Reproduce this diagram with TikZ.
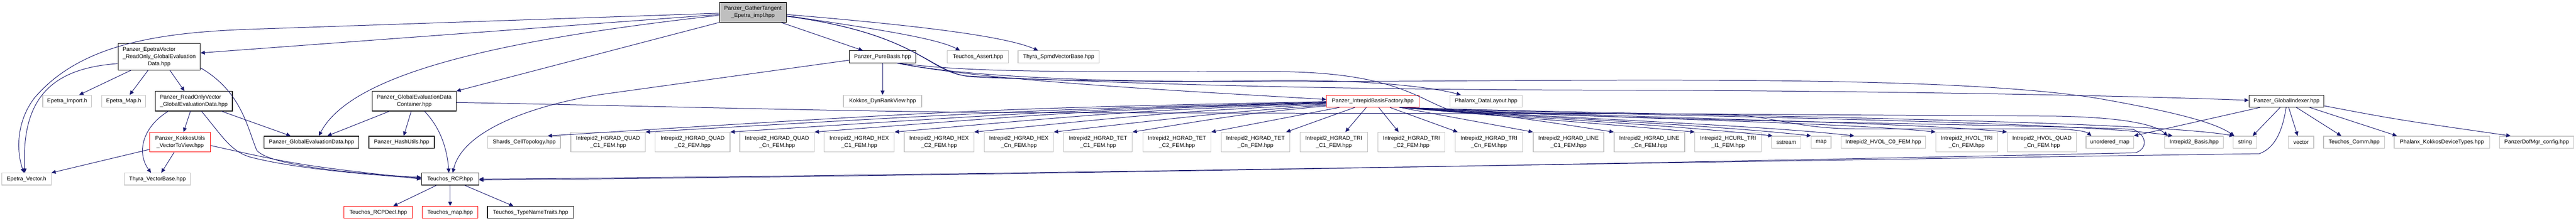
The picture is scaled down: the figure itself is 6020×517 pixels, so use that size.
\documentclass[tikz,border=0pt]{standalone}
\usepackage{fontspec}
\setmainfont{Liberation Sans}
\usepackage{tikz}
\usetikzlibrary{arrows.meta}

\definecolor{edgeblue}{HTML}{191970}
\definecolor{extgray}{HTML}{BFBFBF}
\definecolor{rootgray}{HTML}{BFBFBF}

\tikzset{
  file/.style={rectangle, line width=1.4pt, inner sep=0pt, minimum height=28pt,
    align=center, font=\fontsize{13}{17}\selectfont},
  local/.style={file, draw=black},
  extern/.style={file, draw=extgray},
  missing/.style={file, draw=red},
  tworow/.style={minimum height=46pt},
  threerow/.style={minimum height=62pt},
  edge/.style={draw=edgeblue, line width=1.2pt, -{Triangle[length=10pt,width=9pt,fill=edgeblue]}}
}

\begin{document}
\begin{tikzpicture}[x=1pt, y=-1pt]
\useasboundingbox[fill=white] (0,0) rectangle (6020,517);

% nodes
\node[local, fill=rootgray, tworow, minimum width=157pt] (gather) at (1759.5,29) {Panzer\_GatherTangent\\\_Epetra\_impl.hpp};

\node[local, threerow, minimum width=192pt] (evro) at (372,133) {\begin{tabular}{@{}l@{}}Panzer\_EpetraVector\\\_ReadOnly\_GlobalEvaluation\\\multicolumn{1}{@{}c@{}}{Data.hpp}\end{tabular}};
\node[local, minimum width=155pt] (purebasis) at (2062.5,133) {Panzer\_PureBasis.hpp};
\node[extern, minimum width=143pt] (tassert) at (2285.5,133) {Teuchos\_Assert.hpp};
\node[extern, minimum width=190pt] (thyraspmd) at (2474,133) {Thyra\_SpmdVectorBase.hpp};

\node[extern, minimum width=114pt] (epimport) at (157,237) {Epetra\_Import.h};
\node[extern, minimum width=102pt] (epmap) at (289,237) {Epetra\_Map.h};
\node[local, tworow, minimum width=180pt] (rov) at (453,237) {\begin{tabular}{@{}l@{}}Panzer\_ReadOnlyVector\\\multicolumn{1}{@{}c@{}}{\_GlobalEvaluationData.hpp}\end{tabular}};
\node[local, tworow, minimum width=196pt] (gedc) at (968,237) {Panzer\_GlobalEvaluationData\\Container.hpp};
\node[extern, minimum width=183pt] (dynrank) at (2062.5,237) {Kokkos\_DynRankView.hpp};
\node[missing, minimum width=216pt] (basisfac) at (3208,237) {Panzer\_IntrepidBasisFactory.hpp};
\node[extern, minimum width=168pt] (datalayout) at (3473,237) {Phalanx\_DataLayout.hpp};
\node[local, minimum width=175pt] (gindexer) at (5343.5,237) {Panzer\_GlobalIndexer.hpp};

\node[missing, tworow, minimum width=142pt] (kutils) at (421,333) {Panzer\_KokkosUtils\\\_VectorToView.hpp};
\node[local, minimum width=222pt] (gedata) at (728,333) {Panzer\_GlobalEvaluationData.hpp};
\node[local, minimum width=153pt] (hashutils) at (938.5,333) {Panzer\_HashUtils.hpp};
\node[extern, minimum width=170pt] (shards) at (1225,333) {Shards\_CellTopology.hpp};
\node[extern, tworow, minimum width=174pt] (quadA) at (1421,333) {Intrepid2\_HGRAD\_QUAD\\\_C1\_FEM.hpp};
\node[extern, tworow, minimum width=175pt] (quadB) at (1618.5,333) {Intrepid2\_HGRAD\_QUAD\\\_C2\_FEM.hpp};
\node[extern, tworow, minimum width=174pt] (quadN) at (1816,333) {Intrepid2\_HGRAD\_QUAD\\\_Cn\_FEM.hpp};
\node[extern, tworow, minimum width=164pt] (hexA) at (2008,333) {Intrepid2\_HGRAD\_HEX\\\_C1\_FEM.hpp};
\node[extern, tworow, minimum width=163pt] (hexB) at (2194.5,333) {Intrepid2\_HGRAD\_HEX\\\_C2\_FEM.hpp};
\node[extern, tworow, minimum width=162pt] (hexN) at (2381,333) {Intrepid2\_HGRAD\_HEX\\\_Cn\_FEM.hpp};
\node[extern, tworow, minimum width=160pt] (tetA) at (2566,333) {Intrepid2\_HGRAD\_TET\\\_C1\_FEM.hpp};
\node[extern, tworow, minimum width=159pt] (tetB) at (2750.5,333) {Intrepid2\_HGRAD\_TET\\\_C2\_FEM.hpp};
\node[extern, tworow, minimum width=160pt] (tetN) at (2934,333) {Intrepid2\_HGRAD\_TET\\\_Cn\_FEM.hpp};
\node[extern, tworow, minimum width=158pt] (triA) at (3117,333) {Intrepid2\_HGRAD\_TRI\\\_C1\_FEM.hpp};
\node[extern, tworow, minimum width=157pt] (triB) at (3298.5,333) {Intrepid2\_HGRAD\_TRI\\\_C2\_FEM.hpp};
\node[extern, tworow, minimum width=157pt] (triN) at (3479.5,333) {Intrepid2\_HGRAD\_TRI\\\_Cn\_FEM.hpp};
\node[extern, tworow, minimum width=165pt] (lineA) at (3665.5,333) {Intrepid2\_HGRAD\_LINE\\\_C1\_FEM.hpp};
\node[extern, tworow, minimum width=165pt] (lineN) at (3854.5,333) {Intrepid2\_HGRAD\_LINE\\\_Cn\_FEM.hpp};
\node[extern, tworow, minimum width=155pt] (hcurl) at (4038.5,333) {Intrepid2\_HCURL\_TRI\\\_I1\_FEM.hpp};
\node[extern, minimum width=69pt] (sstream) at (4174.5,333) {sstream};
\node[extern, minimum width=46pt] (stdmap) at (4256,333) {map};
\node[extern, minimum width=198pt] (hvolC) at (4401,333) {Intrepid2\_HVOL\_C0\_FEM.hpp};
\node[extern, tworow, minimum width=144pt] (hvolT) at (4596,333) {Intrepid2\_HVOL\_TRI\\\_Cn\_FEM.hpp};
\node[extern, tworow, minimum width=162pt] (hvolQ) at (4772,333) {Intrepid2\_HVOL\_QUAD\\\_Cn\_FEM.hpp};
\node[extern, minimum width=111pt] (umap) at (4930.5,333) {unordered\_map};
\node[extern, minimum width=137pt] (ibasis) at (5127.5,333) {Intrepid2\_Basis.hpp};
\node[extern, minimum width=55pt] (stdstring) at (5246.5,333) {string};
\node[extern, minimum width=59pt] (stdvector) at (5377.5,333) {vector};
\node[extern, minimum width=143pt] (tcomm) at (5501.5,333) {Teuchos\_Comm.hpp};
\node[extern, minimum width=223pt] (kdevice) at (5706.5,333) {Phalanx\_KokkosDeviceTypes.hpp};
\node[extern, minimum width=174pt] (dofcfg) at (5928,333) {PanzerDofMgr\_config.hpp};

\node[extern, minimum width=115pt] (epvec) at (62,419.5) {Epetra\_Vector.h};
\node[extern, minimum width=154pt] (thyravb) at (368,419.5) {Thyra\_VectorBase.hpp};
\node[local, minimum width=134pt] (rcp) at (1052,419.5) {Teuchos\_RCP.hpp};

\node[missing, minimum width=160pt] (rcpdecl) at (884,497.5) {Teuchos\_RCPDecl.hpp};
\node[missing, minimum width=130pt] (tmap) at (1052,497.5) {Teuchos\_map.hpp};
\node[local, minimum width=202pt] (tnt) at (1240,497.5) {Teuchos\_TypeNameTraits.hpp};

% includes of the root
\draw[edge] ([yshift=-2pt]gather.west) -- (600,68) .. controls (380,75) and (190,100) .. (80,230) .. controls (35,290) and (40,360) .. ([xshift=-6pt]epvec.north);
\draw[edge] ([yshift=-5pt]gather.west) -- ([yshift=9pt]evro.east);
\draw[edge] ([yshift=-7pt]gather.west) .. controls (1150,95) and (820,175) .. ([xshift=17pt]gedata.north);
\draw[edge] (gather.south west) -- (gedc.north east);
\draw[edge] ([xshift=66pt]gather.south) -- ([xshift=-46pt]purebasis.north);
\draw[edge] ([yshift=-8pt]gather.east) .. controls (2050,68) and (2190,90) .. ([xshift=-42pt]tassert.north);
\draw[edge] ([yshift=-5pt]gather.east) .. controls (2150,60) and (2350,85) .. ([xshift=-48pt]thyraspmd.north);
\draw[edge] ([yshift=-9pt]gather.east) .. controls (2150,80) and (2170,170) .. (2260,178) .. controls (2700,200) and (3200,210) .. (3700,211) .. controls (4400,212) and (5000,225) .. ([yshift=2pt]gindexer.west);
\draw[edge] ([yshift=-9pt]gather.east) .. controls (2150,80) and (2170,170) .. (2270,180) .. controls (3000,215) and (4400,150) .. (4900,230) .. controls (5100,265) and (5180,290) .. ([xshift=-25pt]stdstring.north);

% epetra read only vector
\draw[edge] ([yshift=-16pt]evro.west) .. controls (120,160) and (50,230) .. ([xshift=-4pt]epvec.north);
\draw[edge] ([xshift=-66pt]evro.south) -- ([xshift=28pt]epimport.north);
\draw[edge] ([xshift=-26pt]evro.south) -- ([xshift=14pt]epmap.north);
\draw[edge] ([xshift=25pt]evro.south) -- ([xshift=-22pt]rov.north);
\draw[edge] ([yshift=-26pt]evro.east) .. controls (565,215) and (578,300) .. (600,352) .. controls (630,390) and (850,408) .. ([yshift=4pt]rcp.west);

\draw[edge] ([xshift=-8pt]rov.south) -- ([xshift=8pt]kutils.north);
\draw[edge] ([xshift=-60pt]rov.south) .. controls (330,300) and (320,360) .. ([xshift=-15pt]thyravb.north);
\draw[edge] ([xshift=18pt]rov.south) .. controls (520,320) and (540,355) .. (585,368) .. controls (700,398) and (900,412) .. ([yshift=2pt]rcp.west);
\draw[edge] ([xshift=65pt]rov.south) -- ([xshift=-49pt]gedata.north);

\draw[edge] ([yshift=-17pt]kutils.west) -- (epvec.north east);
\draw[edge] ([xshift=-14pt]kutils.south) -- ([xshift=9pt]thyravb.north);
\draw[edge] ([yshift=-8pt]kutils.east) .. controls (700,387) .. (rcp.west);

% container
\draw[edge] ([xshift=-58pt]gedc.south) -- ([xshift=37pt]gedata.north);
\draw[edge] ([xshift=-7pt]gedc.south) -- ([xshift=5pt]hashutils.north);
\draw[edge] ([xshift=24pt]gedc.south) .. controls (1030,300) and (1045,350) .. ([xshift=-3pt]rcp.north);
\draw[edge] ([yshift=-3pt]gedc.east) .. controls (1600,250) and (2000,262) .. (2400,264) -- (4000,267) .. controls (4150,268) and (4180,302) .. (4350,302) -- (4800,302) .. controls (4850,303) and (4875,308) .. ([xshift=-43pt]umap.north);

\draw[edge] ([xshift=-32pt]rcp.south) -- ([xshift=35pt]rcpdecl.north);
\draw[edge] (rcp.south) -- (tmap.north);
\draw[edge] ([xshift=34pt]rcp.south) -- ([xshift=-40pt]tnt.north);

% pure basis
\draw[edge] (purebasis.south) -- (dynrank.north);
\draw[edge] ([yshift=-8pt]purebasis.west) -- (1400,222) .. controls (1230,250) and (1080,310) .. ([xshift=6pt]rcp.north);
\draw[edge] ([xshift=35pt]purebasis.south) .. controls (2250,180) and (2600,195) .. (2950,189) .. controls (3200,185) and (3350,205) .. ([xshift=-59pt]datalayout.north);
\draw[edge] ([xshift=33pt]purebasis.south) .. controls (2300,190) and (2800,215) .. ([yshift=4pt]basisfac.west);
\draw[edge] ([xshift=37pt]purebasis.south) .. controls (2300,175) and (2600,165) .. (3000,168) .. controls (3300,172) and (3330,255) .. (3420,264) -- (4800,272) .. controls (4980,275) and (5040,295) .. ([xshift=-62pt]ibasis.north);

% basis factory
\draw[edge] ([yshift=-1pt]basisfac.west) .. controls (2300,255) .. ([xshift=55pt]shards.north);
\draw[edge] ([yshift=-2pt]basisfac.west) .. controls (2400,258) .. (quadA.north east);
\draw[edge] ([yshift=-3pt]basisfac.west) .. controls (2500,258) .. (quadB.north east);
\draw[edge] ([yshift=-4pt]basisfac.west) .. controls (2550,259) .. (quadN.north east);
\draw[edge] ([yshift=-5pt]basisfac.west) .. controls (2650,260) .. (hexA.north east);
\draw[edge] ([yshift=-7pt]basisfac.west) .. controls (2750,262) .. (hexB.north east);
\draw[edge] ([yshift=-9pt]basisfac.west) .. controls (2850,265) .. (hexN.north east);
\draw[edge] ([yshift=-11pt]basisfac.west) .. controls (2900,268) .. (tetA.north east);
\draw[edge] ([xshift=-78pt]basisfac.south) -- (tetB.north east);
\draw[edge] ([xshift=-42pt]basisfac.south) -- ([xshift=-9pt]tetN.north east);
\draw[edge] ([xshift=-15pt]basisfac.south) -- ([xshift=27pt]triA.north);
\draw[edge] ([xshift=14pt]basisfac.south) -- ([xshift=-30pt]triB.north);
\draw[edge] ([xshift=40pt]basisfac.south) -- ([xshift=6pt]triN.north west);
\draw[edge] ([xshift=63pt]basisfac.south) -- (lineA.north west);
\draw[edge] ([xshift=63pt]basisfac.south) .. controls (3500,268) .. (lineN.north west);
\draw[edge] ([xshift=63pt]basisfac.south) .. controls (3500,272) and (3750,290) .. (hcurl.north west);
\draw[edge] ([xshift=63pt]basisfac.south) .. controls (3550,275) and (3900,292) .. ([xshift=3pt]sstream.north west);
\draw[edge] ([xshift=63pt]basisfac.south) .. controls (3600,276) and (4000,292) .. (stdmap.north west);
\draw[edge] ([xshift=63pt]basisfac.south) .. controls (3650,277) and (4100,292) .. ([xshift=32pt]hvolC.north west);
\draw[edge] ([xshift=63pt]basisfac.south) .. controls (3700,276) and (4300,286) .. (hvolT.north west);
\draw[edge] ([xshift=63pt]basisfac.south) .. controls (3750,275) and (4450,285) .. (hvolQ.north west);
\draw[edge] ([xshift=63pt]basisfac.south) .. controls (3800,272) and (4850,282) .. ([xshift=19pt]ibasis.north west);
\draw[edge] ([xshift=63pt]basisfac.south) .. controls (3850,270) and (5000,280) .. ([xshift=2pt]stdstring.north west);
\draw[edge] ([xshift=80pt]basisfac.south) .. controls (3800,285) and (4700,290) .. (4985,303) .. controls (5020,318) and (5018,350) .. (4990,358) .. controls (3500,390) and (2000,415) .. ([yshift=-2pt]rcp.east);

% global indexer
\draw[edge] ([xshift=-62pt]gindexer.south) -- (umap.north east);
\draw[edge] ([xshift=-15pt]gindexer.south) -- ([xshift=18pt]stdstring.north);
\draw[edge] ([xshift=-1pt]gindexer.south) .. controls (5335,300) and (5320,345) .. (5280,360) .. controls (4000,378) and (2200,412) .. (rcp.east);
\draw[edge] ([xshift=5pt]gindexer.south) -- ([xshift=-8pt]stdvector.north);
\draw[edge] ([xshift=23pt]gindexer.south) -- ([xshift=-30pt]tcomm.north);
\draw[edge] ([xshift=54pt]gindexer.south) -- ([xshift=-105pt]kdevice.north);
\draw[edge] ([yshift=-11pt]gindexer.east) .. controls (5600,280) .. ([xshift=-61pt]dofcfg.north);
\end{tikzpicture}
\end{document}
